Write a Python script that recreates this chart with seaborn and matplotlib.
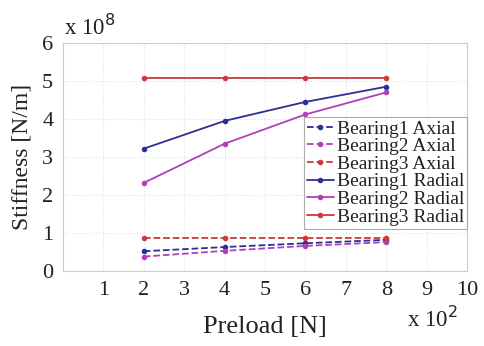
import matplotlib
matplotlib.use("Agg")
import matplotlib.pyplot as plt
import seaborn as sns
import pandas as pd

preload = [2, 4, 6, 8]  # x 10^2 N
b1_axial = [0.52, 0.63, 0.73, 0.82]
b2_axial = [0.38, 0.53, 0.66, 0.76]
b3_axial = [0.88, 0.88, 0.88, 0.88]
b1_radial = [3.22, 3.95, 4.45, 4.85]
b2_radial = [2.32, 3.35, 4.12, 4.70]
b3_radial = [5.08, 5.08, 5.08, 5.08]

series = ["Bearing1 Axial", "Bearing2 Axial", "Bearing3 Axial",
          "Bearing1 Radial", "Bearing2 Radial", "Bearing3 Radial"]
values = [b1_axial, b2_axial, b3_axial, b1_radial, b2_radial, b3_radial]
colors = ["#2e2e9a", "#b040b8", "#cc3a3a", "#2e2e9a", "#b040b8", "#cc3a3a"]
styles = ["--", "--", "--", "-", "-", "-"]

rows = []
for name, vals in zip(series, values):
    for x, v in zip(preload, vals):
        rows.append({"Preload": x, "Stiffness": v, "Series": name})
df = pd.DataFrame(rows)

sns.set_theme(style="white")
plt.rcParams["font.family"] = ["Liberation Serif", "DejaVu Serif"]

fig = plt.figure(figsize=(4.84, 3.46), dpi=100)
ax = fig.add_axes([63/484, 1 - 271/346, (467-63)/484, (271-43)/346])

for name, c, ls in zip(series, colors, styles):
    sub = df[df["Series"] == name]
    sns.lineplot(data=sub, x="Preload", y="Stiffness", ax=ax, color=c,
                 linestyle=ls, marker="o", markersize=4, markeredgewidth=0,
                 linewidth=1.3, label=name)

ax.set_xlim(0, 10)
ax.set_ylim(0, 6)
ax.set_xticks(range(0, 11))
ax.set_xticklabels([""] + [str(i) for i in range(1, 11)])
ax.set_yticks(range(0, 7))
ax.tick_params(axis="both", labelsize=16, length=0, pad=7, colors="#222222")
ax.grid(True, color="#e0e0e0", linestyle=":", linewidth=0.8)
for s in ax.spines.values():
    s.set_color("#cccccc")
    s.set_linewidth(0.8)

ax.set_xlabel("Preload [N]", fontsize=19, color="#222222", labelpad=12)
ax.set_ylabel("Stiffness [N/m]", fontsize=17, color="#222222", labelpad=7)

fig.text(64/484, 1 - 27/346, r"x 10$^{8}$", fontsize=16.5, color="#222222",
         ha="left", va="center")
fig.text(407/484, 1 - 319/346, r"x 10$^{2}$", fontsize=16.5, color="#222222",
         ha="left", va="center")

leg = ax.legend(loc="upper right", bbox_to_anchor=(1.0, 1 - (117-43)/228),
                fontsize=14, frameon=True, fancybox=False,
                handlelength=1.4, handletextpad=0.15, borderpad=0.15,
                labelspacing=0.0, borderaxespad=0)
leg.get_frame().set_edgecolor("#999999")
leg.get_frame().set_linewidth(0.8)
for t in leg.get_texts():
    t.set_color("#222222")

fig.savefig("out.png", dpi=100)
